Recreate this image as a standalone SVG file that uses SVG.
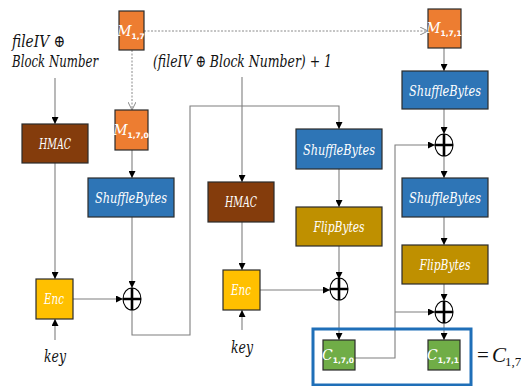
<svg xmlns="http://www.w3.org/2000/svg" width="521" height="386" viewBox="0 0 521 386">
  <style>
    .box { stroke: #2b2b2b; stroke-width: 1.2; }
    .orange { fill: #ED7D31; }
    .blue { fill: #2E75B6; }
    .brown { fill: #843C0C; }
    .gold { fill: #BF9000; }
    .yellow { fill: #FFC000; }
    .green { fill: #70AD47; }
    .lbl { font-family: 'DejaVu Serif', 'Liberation Serif', serif; font-style: italic; fill: #ffffff; text-anchor: middle; }
    .sub { font-family: 'DejaVu Sans', 'Liberation Sans', sans-serif; font-style: normal; font-weight: bold; }
    .math { font-family: 'DejaVu Serif', 'Liberation Serif', serif; font-style: italic; fill: #111111; }
    .eq { font-family: 'Liberation Serif', 'DejaVu Serif', serif; fill: #111111; }
    .wire { fill: none; stroke: #7f7f7f; stroke-width: 1.1; }
    .dash { fill: none; stroke: #8a8a8a; stroke-width: 1; stroke-dasharray: 2 1.5; }
    .xor-ring { fill: #ffffff; stroke: #000000; stroke-width: 1.1; }
    .xor-bar { stroke: #000000; stroke-width: 2.6; }
  </style>
  <defs>
    <marker id="arr" viewBox="0 0 8 8" refX="8" refY="4" markerWidth="7" markerHeight="7" markerUnits="userSpaceOnUse" orient="auto">
      <path d="M0 0 L8 4 L0 8 Z" fill="#000000"/>
    </marker>
    <marker id="open" viewBox="0 0 8 8" refX="8" refY="4" markerWidth="8" markerHeight="8" markerUnits="userSpaceOnUse" orient="auto">
      <path d="M0 0 L8 4 L0 8" fill="none" stroke="#8a8a8a" stroke-width="1"/>
    </marker>
  </defs>

  <rect width="521" height="386" fill="#ffffff"/>

  <!-- free-standing input labels -->
  <g id="input-iv">
    <text class="math" x="12" y="47" font-size="17" textLength="53" lengthAdjust="spacingAndGlyphs">fileIV ⊕</text>
    <text class="math" x="12" y="67" font-size="17" textLength="86" lengthAdjust="spacingAndGlyphs">Block Number</text>
  </g>
  <g id="input-iv-plus-one">
    <text class="math" x="153" y="67" font-size="17" textLength="179" lengthAdjust="spacingAndGlyphs">(fileIV ⊕ Block Number) + 1</text>
  </g>
  <g id="key-1"><text class="math" x="55" y="362" font-size="17" text-anchor="middle" textLength="22" lengthAdjust="spacingAndGlyphs">key</text></g>
  <g id="key-2"><text class="math" x="242" y="353" font-size="17" text-anchor="middle" textLength="22" lengthAdjust="spacingAndGlyphs">key</text></g>

  <!-- connectors -->
  <g id="connectors">
    <path class="wire" d="M55 78 V124" marker-end="url(#arr)"/>
    <path class="wire" d="M55 163 V279" marker-end="url(#arr)"/>
    <path class="wire" d="M55 340 V319" marker-end="url(#arr)"/>
    <path class="wire" d="M73 299 H123" marker-end="url(#arr)"/>
    <path class="wire" d="M132 150 V178" marker-end="url(#arr)"/>
    <path class="wire" d="M132 217 V288" marker-end="url(#arr)"/>
    <path class="wire" d="M132 310 V335 H190 V106 H339 V129" marker-end="url(#arr)"/>
    <path class="wire" d="M242 77 V182" marker-end="url(#arr)"/>
    <path class="wire" d="M242 222 V270" marker-end="url(#arr)"/>
    <path class="wire" d="M242 330 V310" marker-end="url(#arr)"/>
    <path class="wire" d="M260 290 H330" marker-end="url(#arr)"/>
    <path class="wire" d="M339 169 V207" marker-end="url(#arr)"/>
    <path class="wire" d="M339 246 V279" marker-end="url(#arr)"/>
    <path class="wire" d="M339 300 V340" marker-end="url(#arr)"/>
    <path class="wire" d="M444 48 V71" marker-end="url(#arr)"/>
    <path class="wire" d="M444 109 V134" marker-end="url(#arr)"/>
    <path class="wire" d="M444 156 V178" marker-end="url(#arr)"/>
    <path class="wire" d="M444 217 V245" marker-end="url(#arr)"/>
    <path class="wire" d="M444 284 V301" marker-end="url(#arr)"/>
    <path class="wire" d="M444 323 V340" marker-end="url(#arr)"/>
    <path class="wire" d="M355 358 H395 V145 H435" marker-end="url(#arr)"/>
    <path class="wire" d="M395 312 H435" marker-end="url(#arr)"/>
    <path class="dash" d="M132 50 V110" marker-end="url(#open)"/>
    <path class="dash" d="M144 31 H428" marker-end="url(#open)"/>
  </g>

  <!-- message blocks -->
  <g id="m17">
    <rect class="box orange" x="119" y="11" width="25" height="39"/>
    <text class="lbl" x="131" y="36" font-size="14">M<tspan class="sub" font-size="7.5" dy="3">1,7</tspan></text>
  </g>
  <g id="m170">
    <rect class="box orange" x="115" y="110" width="33" height="40"/>
    <text class="lbl" x="131" y="135" font-size="14">M<tspan class="sub" font-size="7.5" dy="3">1,7,0</tspan></text>
  </g>
  <g id="m171">
    <rect class="box orange" x="428" y="9" width="33" height="39"/>
    <text class="lbl" x="444" y="33" font-size="14">M<tspan class="sub" font-size="7.5" dy="3">1,7,1</tspan></text>
  </g>

  <!-- HMAC / Enc -->
  <g id="hmac-1">
    <rect class="box brown" x="22" y="124" width="66" height="39"/>
    <text class="lbl" x="55" y="149" font-size="15" textLength="32" lengthAdjust="spacingAndGlyphs">HMAC</text>
  </g>
  <g id="hmac-2">
    <rect class="box brown" x="208" y="182" width="66" height="40"/>
    <text class="lbl" x="241" y="207" font-size="15" textLength="32" lengthAdjust="spacingAndGlyphs">HMAC</text>
  </g>
  <g id="enc-1">
    <rect class="box yellow" x="36" y="279" width="37" height="40"/>
    <text class="lbl" x="54" y="304" font-size="14" textLength="20" lengthAdjust="spacingAndGlyphs">Enc</text>
  </g>
  <g id="enc-2">
    <rect class="box yellow" x="223" y="270" width="37" height="40"/>
    <text class="lbl" x="241" y="295" font-size="14" textLength="20" lengthAdjust="spacingAndGlyphs">Enc</text>
  </g>

  <!-- ShuffleBytes / FlipBytes -->
  <g id="shuffle-1">
    <rect class="box blue" x="88" y="178" width="86" height="39"/>
    <text class="lbl" x="131" y="203" font-size="15" textLength="72" lengthAdjust="spacingAndGlyphs">ShuffleBytes</text>
  </g>
  <g id="shuffle-2">
    <rect class="box blue" x="296" y="129" width="86" height="40"/>
    <text class="lbl" x="339" y="155" font-size="15" textLength="72" lengthAdjust="spacingAndGlyphs">ShuffleBytes</text>
  </g>
  <g id="shuffle-3">
    <rect class="box blue" x="402" y="71" width="86" height="38"/>
    <text class="lbl" x="445" y="96" font-size="15" textLength="72" lengthAdjust="spacingAndGlyphs">ShuffleBytes</text>
  </g>
  <g id="shuffle-4">
    <rect class="box blue" x="402" y="178" width="86" height="39"/>
    <text class="lbl" x="445" y="203" font-size="15" textLength="72" lengthAdjust="spacingAndGlyphs">ShuffleBytes</text>
  </g>
  <g id="flip-1">
    <rect class="box gold" x="296" y="207" width="86" height="39"/>
    <text class="lbl" x="339" y="232" font-size="15" textLength="51" lengthAdjust="spacingAndGlyphs">FlipBytes</text>
  </g>
  <g id="flip-2">
    <rect class="box gold" x="402" y="245" width="86" height="39"/>
    <text class="lbl" x="445" y="270" font-size="15" textLength="51" lengthAdjust="spacingAndGlyphs">FlipBytes</text>
  </g>

  <!-- XOR gates -->
  <g id="xor-1">
    <ellipse class="xor-ring" cx="132" cy="299" rx="9" ry="11"/>
    <path class="xor-bar" d="M123 299 H141 M132 288 V310"/>
  </g>
  <g id="xor-2">
    <ellipse class="xor-ring" cx="339" cy="289" rx="9" ry="11"/>
    <path class="xor-bar" d="M330 289 H348 M339 278 V300"/>
  </g>
  <g id="xor-3">
    <ellipse class="xor-ring" cx="444" cy="145" rx="9" ry="11"/>
    <path class="xor-bar" d="M435 145 H453 M444 134 V156"/>
  </g>
  <g id="xor-4">
    <ellipse class="xor-ring" cx="444" cy="312" rx="9" ry="11"/>
    <path class="xor-bar" d="M435 312 H453 M444 301 V323"/>
  </g>

  <!-- output ciphertext -->
  <g id="output-frame">
    <rect x="313" y="329" width="158" height="56" fill="none" stroke="#1F6FB8" stroke-width="3"/>
  </g>
  <g id="c170">
    <rect class="box green" x="323" y="340" width="32" height="30" stroke="#5b8f3a"/>
    <text class="lbl" x="338" y="360" font-size="14">C<tspan class="sub" font-size="7.5" dy="3">1,7,0</tspan></text>
  </g>
  <g id="c171">
    <rect class="box green" x="428" y="340" width="32" height="30" stroke="#5b8f3a"/>
    <text class="lbl" x="443" y="360" font-size="14">C<tspan class="sub" font-size="7.5" dy="3">1,7,1</tspan></text>
  </g>
  <g id="c17">
    <text class="eq" x="477" y="362" font-size="21">=</text>
    <text class="eq" x="492" y="362" font-size="21" font-style="italic">C</text>
    <text class="eq" x="505" y="366" font-size="13">1,7</text>
  </g>
</svg>
